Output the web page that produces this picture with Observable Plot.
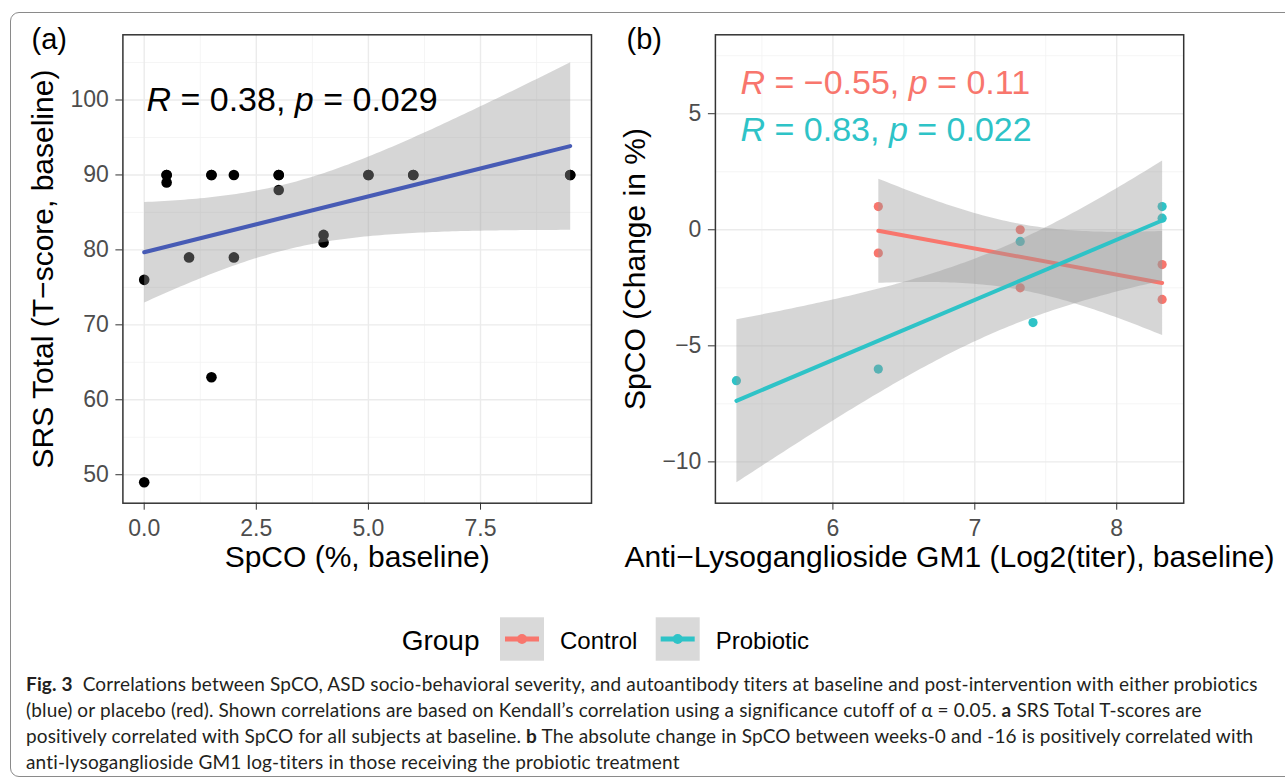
<!DOCTYPE html>
<html>
<head>
<meta charset="utf-8">
<script src="https://cdn.jsdelivr.net/npm/d3@7"></script>
<script src="https://cdn.jsdelivr.net/npm/@observablehq/plot@0.6"></script>
<style>
  html, body { margin: 0; padding: 0; background: #fff; }
  #page { position: relative; width: 1285px; height: 782px; overflow: hidden; background: #fff; font-family: "Liberation Sans", Arial, sans-serif; }
  #border { position: absolute; left: 10px; top: 12px; width: 1320px; height: 765px; border: 1px solid #8a8a8a; border-radius: 9px; box-sizing: border-box; }
  .panel { position: absolute; top: 0; }
  #legend { position: absolute; left: 0; top: 600px; }
  #caption { position: absolute; left: 26px; top: 671px; font-family: Lato, "Open Sans", sans-serif; font-size: 19px; letter-spacing: 0.15px; line-height: 26px; color: #231f20; white-space: nowrap; }
  #caption b { font-weight: 700; }
</style>
</head>
<body>
<div id="page">
  <div id="border"></div>
  <div id="panelA" class="panel" style="left:0px"></div>
  <div id="panelB" class="panel" style="left:600px"></div>
  <div id="legend"></div>
  <div id="caption"><b>Fig. 3</b>&nbsp; Correlations between SpCO, ASD socio-behavioral severity, and autoantibody titers at baseline and post-intervention with either probiotics<br>(blue) or placebo (red). Shown correlations are based on Kendall’s correlation using a significance cutoff of α = 0.05. <b>a</b> SRS Total T-scores are<br>positively correlated with SpCO for all subjects at baseline. <b>b</b> The absolute change in SpCO between weeks-0 and -16 is positively correlated with<br>anti-lysoganglioside GM1 log-titers in those receiving the probiotic treatment</div>
</div>
<script>
// ---------- Data: panel (a) ----------
const spcoA = [0, 0, 0.5, 0.5, 0.5, 1, 1.5, 1.5, 1.5, 2, 2, 3, 3, 3, 4, 4, 5, 5, 6, 6, 9.5, 9.5];
const srsA  = [76, 49, 90, 90, 89, 79, 90, 90, 63, 90, 79, 90, 90, 88, 82, 81, 90, 90, 90, 90, 90, 90];
const xTicksA = [0, 2.5, 5, 7.5];
const xMinorA = [1.25, 3.75, 6.25, 8.75];
const yTicksA = [50, 60, 70, 80, 90, 100];
const yMinorA = [55, 65, 75, 85, 95, 105];
const labelA = "R = 0.38, p = 0.029";

// ---------- Data: panel (b) ----------
const groupB = ["Control", "Control", "Control", "Control", "Control", "Control",
                "Probiotic", "Probiotic", "Probiotic", "Probiotic", "Probiotic", "Probiotic"];
const gm1B = [6.32, 6.32, 7.32, 7.32, 8.32, 8.32, 5.32, 6.32, 7.32, 7.41, 8.32, 8.32];
const spcoChangeB = [1, -1, 0, -2.5, -1.5, -3, -6.5, -6, -0.5, -4, 1, 0.5];
const xTicksB = [6, 7, 8];
const xMinorB = [5.5, 6.5, 7.5];
const yTicksB = [-10, -5, 0, 5];
const yMinorB = [-7.5, -2.5, 2.5, 7.5];
const groups = ["Control", "Probiotic"];
const groupColors = ["#F8766D", "#2EC3C7"];
const labelsB = ["R = −0.55, p = 0.11", "R = 0.83, p = 0.022"];

const dataA = spcoA.map((x, i) => ({x, y: srsA[i]}));
const dataB = gm1B.map((x, i) => ({x, y: spcoChangeB[i], g: groupB[i]}));

const FONT = "Liberation Sans, Arial, Helvetica, sans-serif";
const gridMajor = {stroke: "#ebebeb", strokeWidth: 1.4, strokeOpacity: 1};
const gridMinor = {stroke: "#f3f3f3", strokeWidth: 0.8, strokeOpacity: 1};
const axisStyle = {fontSize: 23, tickSize: 7, tickPadding: 7, label: null, color: "#4d4d4d", stroke: "#333"};

function italicize(svg) {
  d3.select(svg).selectAll("text").each(function () {
    const t = this.textContent;
    if (!/^R = /.test(t)) return;
    const sel = d3.select(this);
    sel.text(null);
    t.split(/(R|p)/).forEach(part => {
      if (part === "") return;
      const ts = sel.append("tspan").text(part);
      if (part === "R" || part === "p") ts.attr("font-style", "italic");
    });
  });
}

// ---------- Panel (a) ----------
const plotA = Plot.plot({
  width: 620, height: 600,
  marginLeft: 122.4, marginRight: 29, marginTop: 34.3, marginBottom: 97.3,
  style: {fontFamily: FONT, background: "transparent", overflow: "visible"},
  x: {domain: [-0.475, 9.975]},
  y: {domain: [46.2, 108.7]},
  marks: [
    Plot.gridX(xMinorA, gridMinor),
    Plot.gridY(yMinorA, gridMinor),
    Plot.gridX(xTicksA, gridMajor),
    Plot.gridY(yTicksA, gridMajor),
    Plot.dot(dataA, {x: "x", y: "y", r: 5.3, fill: "black", stroke: "none"}),
    Plot.linearRegressionY(dataA, {x: "x", y: "y", stroke: "#475bb5", strokeWidth: 4, fill: "#999999", fillOpacity: 0.4, ci: 0.95}),
    Plot.frame({stroke: "#333", strokeWidth: 1.5}),
    Plot.axisX(xTicksA, {...axisStyle, tickFormat: d3.format(".1f"), tickPadding: 9}),
    Plot.axisY(yTicksA, {...axisStyle}),
    Plot.text([labelA], {x: 0.05, y: 100, textAnchor: "start", lineAnchor: "middle", fontSize: 34, fill: "black"}),
    Plot.text(["SpCO (%, baseline)"], {frameAnchor: "bottom", dy: 54, textAnchor: "middle", lineAnchor: "middle", fontSize: 30, fill: "black"}),
    Plot.text(["SRS Total (T−score, baseline)"], {frameAnchor: "left", rotate: -90, dx: -80, textAnchor: "middle", lineAnchor: "middle", fontSize: 30, fill: "black"}),
    Plot.text(["(a)"], {frameAnchor: "top-left", textAnchor: "start", lineAnchor: "middle", dx: -91.4, dy: 5, fontSize: 29, fill: "black"})
  ]
});
italicize(plotA);
document.getElementById("panelA").appendChild(plotA);

// ---------- Panel (b) ----------
const plotB = Plot.plot({
  width: 685, height: 600,
  marginLeft: 114.9, marginRight: 101.8, marginTop: 34.3, marginBottom: 97.3,
  style: {fontFamily: FONT, background: "transparent", overflow: "visible"},
  x: {domain: [5.172, 8.472]},
  y: {domain: [-11.78, 8.4]},
  marks: [
    Plot.gridX(xMinorB, gridMinor),
    Plot.gridY(yMinorB, gridMinor),
    Plot.gridX(xTicksB, gridMajor),
    Plot.gridY(yTicksB, gridMajor),
    Plot.dot(dataB, {x: "x", y: "y", r: 4.6, fill: d => groupColors[groups.indexOf(d.g)], stroke: "none"}),
    ...groups.map((g, i) => Plot.linearRegressionY(dataB.filter(d => d.g === g),
      {x: "x", y: "y", stroke: groupColors[i], strokeWidth: 4, fill: "#999999", fillOpacity: 0.4, ci: 0.95})),
    Plot.frame({stroke: "#333", strokeWidth: 1.5}),
    Plot.axisX(xTicksB, {...axisStyle, tickFormat: d => String(d), tickPadding: 9}),
    Plot.axisY(yTicksB, {...axisStyle}),
    Plot.text(labelsB, {x: 5.349, y: [6.33, 4.31], textAnchor: "start", lineAnchor: "middle", fontSize: 34, fill: (d, i) => groupColors[i]}),
    Plot.text(["Anti−Lysoganglioside GM1 (Log2(titer), baseline)"], {frameAnchor: "bottom", dy: 54, textAnchor: "middle", lineAnchor: "middle", fontSize: 30, fill: "black"}),
    Plot.text(["SpCO (Change in %)"], {frameAnchor: "left", rotate: -90, dx: -80, textAnchor: "middle", lineAnchor: "middle", fontSize: 30, fill: "black"}),
    Plot.text(["(b)"], {frameAnchor: "top-left", textAnchor: "start", lineAnchor: "middle", dx: -88.9, dy: 5, fontSize: 29, fill: "black"})
  ]
});
italicize(plotB);
document.getElementById("panelB").appendChild(plotB);

// ---------- Legend ----------
const lg = d3.select("#legend").append("svg").attr("width", 1285).attr("height", 70)
  .style("font-family", FONT);
lg.append("text").attr("x", 401.7).attr("y", 50).attr("font-size", 28).text("Group");
const keyX = [500, 655.7];
groups.forEach((g, i) => {
  const kx = keyX[i];
  lg.append("rect").attr("x", kx).attr("y", 17.3).attr("width", 44).attr("height", 43.4).attr("fill", "#d9d9d9");
  lg.append("line").attr("x1", kx + 5).attr("x2", kx + 39).attr("y1", 39).attr("y2", 39)
    .attr("stroke", groupColors[i]).attr("stroke-width", 5);
  lg.append("circle").attr("cx", kx + 22).attr("cy", 39).attr("r", 5).attr("fill", groupColors[i]);
  lg.append("text").attr("x", kx + 60).attr("y", 48.5).attr("font-size", 24).text(g);
});
</script>
</body>
</html>
